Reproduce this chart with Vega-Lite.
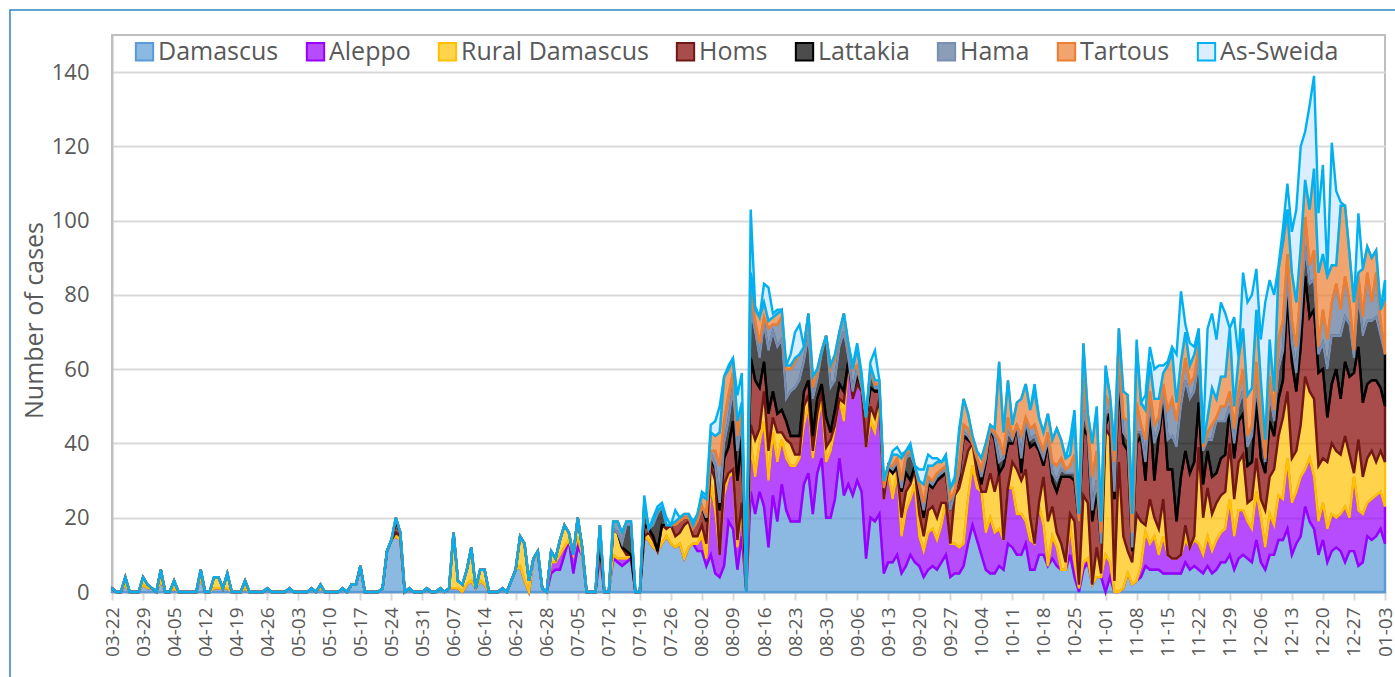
{"$schema":"https://vega.github.io/schema/vega-lite/v6.json","width":1273,"height":557,"autosize":"none","padding":{"left":112,"top":35,"right":10,"bottom":85},"background":"white","config":{"view":{"stroke":"#bfbfbf","strokeWidth":2},"font":"Open Sans","axisX":{"labelOverlap":false,"labelSeparation":0}},
"layer":[{"data":{"values":[
{"d":"2020-03-22","dam":1,"ale":0,"rur":0,"hom":0,"lat":0,"ham":0,"tar":0,"swe":0},
{"d":"2020-03-23","dam":0,"ale":0,"rur":0,"hom":0,"lat":0,"ham":0,"tar":0,"swe":0},
{"d":"2020-03-24","dam":0,"ale":0,"rur":0,"hom":0,"lat":0,"ham":0,"tar":0,"swe":0},
{"d":"2020-03-25","dam":2,"ale":0,"rur":2,"hom":0,"lat":0,"ham":0,"tar":0,"swe":0},
{"d":"2020-03-26","dam":0,"ale":0,"rur":0,"hom":0,"lat":0,"ham":0,"tar":0,"swe":0},
{"d":"2020-03-27","dam":0,"ale":0,"rur":0,"hom":0,"lat":0,"ham":0,"tar":0,"swe":0},
{"d":"2020-03-28","dam":0,"ale":0,"rur":0,"hom":0,"lat":0,"ham":0,"tar":0,"swe":0},
{"d":"2020-03-29","dam":2,"ale":0,"rur":2,"hom":0,"lat":0,"ham":0,"tar":0,"swe":0},
{"d":"2020-03-30","dam":1,"ale":0,"rur":1,"hom":0,"lat":0,"ham":0,"tar":0,"swe":0},
{"d":"2020-03-31","dam":1,"ale":0,"rur":0,"hom":0,"lat":0,"ham":0,"tar":0,"swe":0},
{"d":"2020-04-01","dam":0,"ale":0,"rur":0,"hom":0,"lat":0,"ham":0,"tar":0,"swe":0},
{"d":"2020-04-02","dam":3,"ale":0,"rur":3,"hom":0,"lat":0,"ham":0,"tar":0,"swe":0},
{"d":"2020-04-03","dam":0,"ale":0,"rur":0,"hom":0,"lat":0,"ham":0,"tar":0,"swe":0},
{"d":"2020-04-04","dam":0,"ale":0,"rur":0,"hom":0,"lat":0,"ham":0,"tar":0,"swe":0},
{"d":"2020-04-05","dam":1,"ale":0,"rur":2,"hom":0,"lat":0,"ham":0,"tar":0,"swe":0},
{"d":"2020-04-06","dam":0,"ale":0,"rur":0,"hom":0,"lat":0,"ham":0,"tar":0,"swe":0},
{"d":"2020-04-07","dam":0,"ale":0,"rur":0,"hom":0,"lat":0,"ham":0,"tar":0,"swe":0},
{"d":"2020-04-08","dam":0,"ale":0,"rur":0,"hom":0,"lat":0,"ham":0,"tar":0,"swe":0},
{"d":"2020-04-09","dam":0,"ale":0,"rur":0,"hom":0,"lat":0,"ham":0,"tar":0,"swe":0},
{"d":"2020-04-10","dam":0,"ale":0,"rur":0,"hom":0,"lat":0,"ham":0,"tar":0,"swe":0},
{"d":"2020-04-11","dam":4,"ale":0,"rur":2,"hom":0,"lat":0,"ham":0,"tar":0,"swe":0},
{"d":"2020-04-12","dam":0,"ale":0,"rur":0,"hom":0,"lat":0,"ham":0,"tar":0,"swe":0},
{"d":"2020-04-13","dam":0,"ale":0,"rur":0,"hom":0,"lat":0,"ham":0,"tar":0,"swe":0},
{"d":"2020-04-14","dam":1,"ale":0,"rur":3,"hom":0,"lat":0,"ham":0,"tar":0,"swe":0},
{"d":"2020-04-15","dam":1,"ale":0,"rur":3,"hom":0,"lat":0,"ham":0,"tar":0,"swe":0},
{"d":"2020-04-16","dam":1,"ale":0,"rur":0,"hom":0,"lat":0,"ham":0,"tar":0,"swe":0},
{"d":"2020-04-17","dam":1,"ale":0,"rur":4,"hom":0,"lat":0,"ham":0,"tar":0,"swe":0},
{"d":"2020-04-18","dam":0,"ale":0,"rur":0,"hom":0,"lat":0,"ham":0,"tar":0,"swe":0},
{"d":"2020-04-19","dam":0,"ale":0,"rur":0,"hom":0,"lat":0,"ham":0,"tar":0,"swe":0},
{"d":"2020-04-20","dam":0,"ale":0,"rur":0,"hom":0,"lat":0,"ham":0,"tar":0,"swe":0},
{"d":"2020-04-21","dam":1,"ale":0,"rur":2,"hom":0,"lat":0,"ham":0,"tar":0,"swe":0},
{"d":"2020-04-22","dam":0,"ale":0,"rur":0,"hom":0,"lat":0,"ham":0,"tar":0,"swe":0},
{"d":"2020-04-23","dam":0,"ale":0,"rur":0,"hom":0,"lat":0,"ham":0,"tar":0,"swe":0},
{"d":"2020-04-24","dam":0,"ale":0,"rur":0,"hom":0,"lat":0,"ham":0,"tar":0,"swe":0},
{"d":"2020-04-25","dam":0,"ale":0,"rur":0,"hom":0,"lat":0,"ham":0,"tar":0,"swe":0},
{"d":"2020-04-26","dam":1,"ale":0,"rur":0,"hom":0,"lat":0,"ham":0,"tar":0,"swe":0},
{"d":"2020-04-27","dam":0,"ale":0,"rur":0,"hom":0,"lat":0,"ham":0,"tar":0,"swe":0},
{"d":"2020-04-28","dam":0,"ale":0,"rur":0,"hom":0,"lat":0,"ham":0,"tar":0,"swe":0},
{"d":"2020-04-29","dam":0,"ale":0,"rur":0,"hom":0,"lat":0,"ham":0,"tar":0,"swe":0},
{"d":"2020-04-30","dam":0,"ale":0,"rur":0,"hom":0,"lat":0,"ham":0,"tar":0,"swe":0},
{"d":"2020-05-01","dam":1,"ale":0,"rur":0,"hom":0,"lat":0,"ham":0,"tar":0,"swe":0},
{"d":"2020-05-02","dam":0,"ale":0,"rur":0,"hom":0,"lat":0,"ham":0,"tar":0,"swe":0},
{"d":"2020-05-03","dam":0,"ale":0,"rur":0,"hom":0,"lat":0,"ham":0,"tar":0,"swe":0},
{"d":"2020-05-04","dam":0,"ale":0,"rur":0,"hom":0,"lat":0,"ham":0,"tar":0,"swe":0},
{"d":"2020-05-05","dam":0,"ale":0,"rur":0,"hom":0,"lat":0,"ham":0,"tar":0,"swe":0},
{"d":"2020-05-06","dam":1,"ale":0,"rur":0,"hom":0,"lat":0,"ham":0,"tar":0,"swe":0},
{"d":"2020-05-07","dam":0,"ale":0,"rur":0,"hom":0,"lat":0,"ham":0,"tar":0,"swe":0},
{"d":"2020-05-08","dam":1,"ale":0,"rur":1,"hom":0,"lat":0,"ham":0,"tar":0,"swe":0},
{"d":"2020-05-09","dam":0,"ale":0,"rur":0,"hom":0,"lat":0,"ham":0,"tar":0,"swe":0},
{"d":"2020-05-10","dam":0,"ale":0,"rur":0,"hom":0,"lat":0,"ham":0,"tar":0,"swe":0},
{"d":"2020-05-11","dam":0,"ale":0,"rur":0,"hom":0,"lat":0,"ham":0,"tar":0,"swe":0},
{"d":"2020-05-12","dam":0,"ale":0,"rur":0,"hom":0,"lat":0,"ham":0,"tar":0,"swe":0},
{"d":"2020-05-13","dam":1,"ale":0,"rur":0,"hom":0,"lat":0,"ham":0,"tar":0,"swe":0},
{"d":"2020-05-14","dam":0,"ale":0,"rur":0,"hom":0,"lat":0,"ham":0,"tar":0,"swe":0},
{"d":"2020-05-15","dam":2,"ale":0,"rur":0,"hom":0,"lat":0,"ham":0,"tar":0,"swe":0},
{"d":"2020-05-16","dam":2,"ale":0,"rur":0,"hom":0,"lat":0,"ham":0,"tar":0,"swe":0},
{"d":"2020-05-17","dam":7,"ale":0,"rur":0,"hom":0,"lat":0,"ham":0,"tar":0,"swe":0},
{"d":"2020-05-18","dam":0,"ale":0,"rur":0,"hom":0,"lat":0,"ham":0,"tar":0,"swe":0},
{"d":"2020-05-19","dam":0,"ale":0,"rur":0,"hom":0,"lat":0,"ham":0,"tar":0,"swe":0},
{"d":"2020-05-20","dam":0,"ale":0,"rur":0,"hom":0,"lat":0,"ham":0,"tar":0,"swe":0},
{"d":"2020-05-21","dam":0,"ale":0,"rur":0,"hom":0,"lat":0,"ham":0,"tar":0,"swe":0},
{"d":"2020-05-22","dam":1,"ale":0,"rur":0,"hom":0,"lat":0,"ham":0,"tar":0,"swe":0},
{"d":"2020-05-23","dam":11,"ale":0,"rur":0,"hom":0,"lat":0,"ham":0,"tar":0,"swe":0},
{"d":"2020-05-24","dam":14,"ale":0,"rur":0,"hom":0,"lat":0,"ham":0,"tar":0,"swe":0},
{"d":"2020-05-25","dam":15,"ale":0,"rur":1,"hom":3,"lat":1,"ham":0,"tar":0,"swe":0},
{"d":"2020-05-26","dam":14,"ale":0,"rur":1,"hom":1,"lat":0,"ham":0,"tar":0,"swe":0},
{"d":"2020-05-27","dam":0,"ale":0,"rur":0,"hom":0,"lat":0,"ham":0,"tar":0,"swe":0},
{"d":"2020-05-28","dam":1,"ale":0,"rur":0,"hom":0,"lat":0,"ham":0,"tar":0,"swe":0},
{"d":"2020-05-29","dam":0,"ale":0,"rur":0,"hom":0,"lat":0,"ham":0,"tar":0,"swe":0},
{"d":"2020-05-30","dam":0,"ale":0,"rur":0,"hom":0,"lat":0,"ham":0,"tar":0,"swe":0},
{"d":"2020-05-31","dam":0,"ale":0,"rur":0,"hom":0,"lat":0,"ham":0,"tar":0,"swe":0},
{"d":"2020-06-01","dam":1,"ale":0,"rur":0,"hom":0,"lat":0,"ham":0,"tar":0,"swe":0},
{"d":"2020-06-02","dam":0,"ale":0,"rur":0,"hom":0,"lat":0,"ham":0,"tar":0,"swe":0},
{"d":"2020-06-03","dam":0,"ale":0,"rur":0,"hom":0,"lat":0,"ham":0,"tar":0,"swe":0},
{"d":"2020-06-04","dam":1,"ale":0,"rur":0,"hom":0,"lat":0,"ham":0,"tar":0,"swe":0},
{"d":"2020-06-05","dam":0,"ale":0,"rur":0,"hom":0,"lat":0,"ham":0,"tar":0,"swe":0},
{"d":"2020-06-06","dam":1,"ale":0,"rur":0,"hom":0,"lat":0,"ham":0,"tar":0,"swe":0},
{"d":"2020-06-07","dam":1,"ale":0,"rur":15,"hom":0,"lat":0,"ham":0,"tar":0,"swe":0},
{"d":"2020-06-08","dam":1,"ale":0,"rur":2,"hom":0,"lat":0,"ham":0,"tar":0,"swe":0},
{"d":"2020-06-09","dam":0,"ale":0,"rur":2,"hom":0,"lat":0,"ham":0,"tar":0,"swe":0},
{"d":"2020-06-10","dam":2,"ale":0,"rur":4,"hom":0,"lat":0,"ham":0,"tar":0,"swe":0},
{"d":"2020-06-11","dam":3,"ale":0,"rur":9,"hom":0,"lat":0,"ham":0,"tar":0,"swe":0},
{"d":"2020-06-12","dam":1,"ale":0,"rur":0,"hom":0,"lat":0,"ham":0,"tar":0,"swe":0},
{"d":"2020-06-13","dam":3,"ale":0,"rur":3,"hom":0,"lat":0,"ham":0,"tar":0,"swe":0},
{"d":"2020-06-14","dam":2,"ale":0,"rur":4,"hom":0,"lat":0,"ham":0,"tar":0,"swe":0},
{"d":"2020-06-15","dam":0,"ale":0,"rur":0,"hom":0,"lat":0,"ham":0,"tar":0,"swe":0},
{"d":"2020-06-16","dam":0,"ale":0,"rur":0,"hom":0,"lat":0,"ham":0,"tar":0,"swe":0},
{"d":"2020-06-17","dam":0,"ale":0,"rur":0,"hom":0,"lat":0,"ham":0,"tar":0,"swe":0},
{"d":"2020-06-18","dam":1,"ale":0,"rur":0,"hom":0,"lat":0,"ham":0,"tar":0,"swe":0},
{"d":"2020-06-19","dam":0,"ale":0,"rur":0,"hom":0,"lat":0,"ham":0,"tar":0,"swe":0},
{"d":"2020-06-20","dam":3,"ale":0,"rur":0,"hom":0,"lat":0,"ham":0,"tar":0,"swe":0},
{"d":"2020-06-21","dam":6,"ale":0,"rur":0,"hom":0,"lat":0,"ham":0,"tar":0,"swe":0},
{"d":"2020-06-22","dam":7,"ale":0,"rur":8,"hom":0,"lat":0,"ham":0,"tar":0,"swe":0},
{"d":"2020-06-23","dam":3,"ale":0,"rur":10,"hom":0,"lat":0,"ham":0,"tar":0,"swe":0},
{"d":"2020-06-24","dam":0,"ale":0,"rur":3,"hom":0,"lat":0,"ham":0,"tar":0,"swe":0},
{"d":"2020-06-25","dam":9,"ale":0,"rur":0,"hom":0,"lat":0,"ham":0,"tar":0,"swe":0},
{"d":"2020-06-26","dam":10,"ale":0,"rur":1,"hom":0,"lat":0,"ham":0,"tar":0,"swe":0},
{"d":"2020-06-27","dam":1,"ale":0,"rur":0,"hom":0,"lat":0,"ham":0,"tar":0,"swe":0},
{"d":"2020-06-28","dam":0,"ale":0,"rur":0,"hom":0,"lat":0,"ham":0,"tar":0,"swe":0},
{"d":"2020-06-29","dam":5,"ale":3,"rur":3,"hom":0,"lat":0,"ham":0,"tar":0,"swe":0},
{"d":"2020-06-30","dam":6,"ale":2,"rur":1,"hom":0,"lat":0,"ham":0,"tar":0,"swe":0},
{"d":"2020-07-01","dam":6,"ale":4,"rur":4,"hom":0,"lat":0,"ham":0,"tar":0,"swe":0},
{"d":"2020-07-02","dam":10,"ale":2,"rur":6,"hom":0,"lat":0,"ham":0,"tar":0,"swe":0},
{"d":"2020-07-03","dam":14,"ale":0,"rur":2,"hom":0,"lat":0,"ham":0,"tar":0,"swe":0},
{"d":"2020-07-04","dam":5,"ale":5,"rur":0,"hom":0,"lat":0,"ham":0,"tar":0,"swe":0},
{"d":"2020-07-05","dam":12,"ale":3,"rur":5,"hom":0,"lat":0,"ham":0,"tar":0,"swe":0},
{"d":"2020-07-06","dam":10,"ale":0,"rur":2,"hom":0,"lat":0,"ham":0,"tar":0,"swe":0},
{"d":"2020-07-07","dam":0,"ale":0,"rur":0,"hom":0,"lat":0,"ham":0,"tar":0,"swe":0},
{"d":"2020-07-08","dam":0,"ale":0,"rur":0,"hom":0,"lat":0,"ham":0,"tar":0,"swe":0},
{"d":"2020-07-09","dam":0,"ale":0,"rur":0,"hom":0,"lat":0,"ham":0,"tar":0,"swe":0},
{"d":"2020-07-10","dam":10,"ale":2,"rur":0,"hom":3,"lat":3,"ham":0,"tar":0,"swe":0},
{"d":"2020-07-11","dam":0,"ale":0,"rur":0,"hom":0,"lat":0,"ham":0,"tar":0,"swe":0},
{"d":"2020-07-12","dam":0,"ale":0,"rur":0,"hom":0,"lat":0,"ham":0,"tar":0,"swe":0},
{"d":"2020-07-13","dam":9,"ale":1,"rur":7,"hom":0,"lat":0,"ham":2,"tar":0,"swe":0},
{"d":"2020-07-14","dam":8,"ale":1,"rur":7,"hom":0,"lat":0,"ham":3,"tar":0,"swe":0},
{"d":"2020-07-15","dam":7,"ale":2,"rur":3,"hom":0,"lat":1,"ham":3,"tar":0,"swe":0},
{"d":"2020-07-16","dam":8,"ale":1,"rur":1,"hom":1,"lat":7,"ham":1,"tar":0,"swe":0},
{"d":"2020-07-17","dam":9,"ale":1,"rur":0,"hom":0,"lat":8,"ham":1,"tar":0,"swe":0},
{"d":"2020-07-18","dam":0,"ale":0,"rur":0,"hom":0,"lat":0,"ham":0,"tar":0,"swe":0},
{"d":"2020-07-19","dam":0,"ale":0,"rur":0,"hom":0,"lat":0,"ham":0,"tar":0,"swe":0},
{"d":"2020-07-20","dam":15,"ale":0,"rur":0,"hom":3,"lat":5,"ham":1,"tar":0,"swe":2},
{"d":"2020-07-21","dam":14,"ale":0,"rur":2,"hom":1,"lat":0,"ham":0,"tar":0,"swe":0},
{"d":"2020-07-22","dam":12,"ale":0,"rur":2,"hom":1,"lat":3,"ham":1,"tar":0,"swe":1},
{"d":"2020-07-23","dam":11,"ale":0,"rur":0,"hom":0,"lat":10,"ham":1,"tar":0,"swe":1},
{"d":"2020-07-24","dam":13,"ale":0,"rur":5,"hom":0,"lat":5,"ham":0,"tar":0,"swe":1},
{"d":"2020-07-25","dam":15,"ale":0,"rur":2,"hom":1,"lat":0,"ham":0,"tar":0,"swe":2},
{"d":"2020-07-26","dam":13,"ale":0,"rur":5,"hom":0,"lat":0,"ham":0,"tar":0,"swe":0},
{"d":"2020-07-27","dam":12,"ale":0,"rur":3,"hom":3,"lat":0,"ham":0,"tar":1,"swe":3},
{"d":"2020-07-28","dam":13,"ale":0,"rur":3,"hom":3,"lat":0,"ham":0,"tar":1,"swe":0},
{"d":"2020-07-29","dam":9,"ale":0,"rur":9,"hom":2,"lat":0,"ham":0,"tar":1,"swe":0},
{"d":"2020-07-30","dam":12,"ale":0,"rur":7,"hom":1,"lat":0,"ham":0,"tar":1,"swe":0},
{"d":"2020-07-31","dam":13,"ale":0,"rur":2,"hom":2,"lat":0,"ham":0,"tar":1,"swe":1},
{"d":"2020-08-01","dam":11,"ale":2,"rur":2,"hom":4,"lat":0,"ham":0,"tar":2,"swe":0},
{"d":"2020-08-02","dam":11,"ale":4,"rur":3,"hom":5,"lat":0,"ham":0,"tar":3,"swe":1},
{"d":"2020-08-03","dam":7,"ale":2,"rur":4,"hom":6,"lat":1,"ham":1,"tar":4,"swe":1},
{"d":"2020-08-04","dam":10,"ale":19,"rur":5,"hom":2,"lat":1,"ham":1,"tar":5,"swe":2},
{"d":"2020-08-05","dam":5,"ale":17,"rur":8,"hom":3,"lat":1,"ham":4,"tar":4,"swe":4},
{"d":"2020-08-06","dam":4,"ale":6,"rur":0,"hom":12,"lat":2,"ham":10,"tar":9,"swe":7},
{"d":"2020-08-07","dam":7,"ale":19,"rur":3,"hom":7,"lat":4,"ham":6,"tar":12,"swe":0},
{"d":"2020-08-08","dam":19,"ale":12,"rur":1,"hom":7,"lat":7,"ham":7,"tar":7,"swe":1},
{"d":"2020-08-09","dam":17,"ale":15,"rur":1,"hom":13,"lat":9,"ham":4,"tar":4,"swe":0},
{"d":"2020-08-10","dam":6,"ale":6,"rur":2,"hom":16,"lat":8,"ham":4,"tar":4,"swe":7},
{"d":"2020-08-11","dam":15,"ale":7,"rur":2,"hom":17,"lat":5,"ham":3,"tar":2,"swe":8},
{"d":"2020-08-12","dam":0,"ale":0,"rur":0,"hom":0,"lat":0,"ham":0,"tar":0,"swe":0},
{"d":"2020-08-13","dam":27,"ale":13,"rur":5,"hom":18,"lat":13,"ham":4,"tar":6,"swe":17},
{"d":"2020-08-14","dam":21,"ale":10,"rur":10,"hom":16,"lat":13,"ham":3,"tar":3,"swe":1},
{"d":"2020-08-15","dam":27,"ale":13,"rur":4,"hom":11,"lat":8,"ham":4,"tar":7,"swe":0},
{"d":"2020-08-16","dam":23,"ale":23,"rur":8,"hom":8,"lat":10,"ham":2,"tar":4,"swe":5},
{"d":"2020-08-17","dam":12,"ale":18,"rur":8,"hom":10,"lat":17,"ham":6,"tar":2,"swe":9},
{"d":"2020-08-18","dam":26,"ale":17,"rur":4,"hom":7,"lat":16,"ham":2,"tar":2,"swe":1},
{"d":"2020-08-19","dam":19,"ale":16,"rur":8,"hom":5,"lat":18,"ham":6,"tar":3,"swe":1},
{"d":"2020-08-20","dam":29,"ale":12,"rur":2,"hom":6,"lat":19,"ham":6,"tar":2,"swe":0},
{"d":"2020-08-21","dam":22,"ale":14,"rur":5,"hom":5,"lat":6,"ham":8,"tar":1,"swe":0},
{"d":"2020-08-22","dam":19,"ale":15,"rur":6,"hom":2,"lat":12,"ham":6,"tar":1,"swe":3},
{"d":"2020-08-23","dam":19,"ale":15,"rur":3,"hom":5,"lat":13,"ham":7,"tar":1,"swe":7},
{"d":"2020-08-24","dam":19,"ale":17,"rur":1,"hom":5,"lat":15,"ham":7,"tar":0,"swe":8},
{"d":"2020-08-25","dam":29,"ale":16,"rur":5,"hom":4,"lat":8,"ham":4,"tar":0,"swe":0},
{"d":"2020-08-26","dam":32,"ale":18,"rur":3,"hom":4,"lat":12,"ham":6,"tar":0,"swe":0},
{"d":"2020-08-27","dam":21,"ale":15,"rur":2,"hom":4,"lat":10,"ham":3,"tar":3,"swe":0},
{"d":"2020-08-28","dam":32,"ale":13,"rur":3,"hom":4,"lat":5,"ham":2,"tar":1,"swe":0},
{"d":"2020-08-29","dam":36,"ale":16,"rur":2,"hom":2,"lat":8,"ham":1,"tar":0,"swe":0},
{"d":"2020-08-30","dam":20,"ale":15,"rur":4,"hom":8,"lat":22,"ham":0,"tar":0,"swe":0},
{"d":"2020-08-31","dam":20,"ale":18,"rur":3,"hom":2,"lat":12,"ham":5,"tar":1,"swe":0},
{"d":"2020-09-01","dam":25,"ale":19,"rur":1,"hom":4,"lat":8,"ham":6,"tar":1,"swe":0},
{"d":"2020-09-02","dam":36,"ale":16,"rur":0,"hom":4,"lat":10,"ham":4,"tar":0,"swe":0},
{"d":"2020-09-03","dam":26,"ale":20,"rur":5,"hom":3,"lat":16,"ham":5,"tar":0,"swe":0},
{"d":"2020-09-04","dam":29,"ale":33,"rur":0,"hom":0,"lat":1,"ham":3,"tar":1,"swe":0},
{"d":"2020-09-05","dam":26,"ale":26,"rur":0,"hom":2,"lat":0,"ham":6,"tar":0,"swe":1},
{"d":"2020-09-06","dam":30,"ale":26,"rur":0,"hom":2,"lat":2,"ham":1,"tar":5,"swe":1},
{"d":"2020-09-07","dam":27,"ale":27,"rur":0,"hom":1,"lat":0,"ham":1,"tar":1,"swe":2},
{"d":"2020-09-08","dam":9,"ale":30,"rur":0,"hom":8,"lat":0,"ham":0,"tar":0,"swe":0},
{"d":"2020-09-09","dam":20,"ale":26,"rur":4,"hom":5,"lat":4,"ham":1,"tar":1,"swe":1},
{"d":"2020-09-10","dam":19,"ale":24,"rur":4,"hom":7,"lat":1,"ham":1,"tar":1,"swe":8},
{"d":"2020-09-11","dam":21,"ale":30,"rur":1,"hom":2,"lat":1,"ham":1,"tar":1,"swe":0},
{"d":"2020-09-12","dam":5,"ale":20,"rur":0,"hom":3,"lat":0,"ham":0,"tar":2,"swe":0},
{"d":"2020-09-13","dam":8,"ale":24,"rur":1,"hom":1,"lat":0,"ham":0,"tar":0,"swe":0},
{"d":"2020-09-14","dam":8,"ale":17,"rur":7,"hom":0,"lat":1,"ham":1,"tar":3,"swe":1},
{"d":"2020-09-15","dam":10,"ale":22,"rur":1,"hom":1,"lat":1,"ham":1,"tar":1,"swe":2},
{"d":"2020-09-16","dam":5,"ale":10,"rur":5,"hom":7,"lat":1,"ham":2,"tar":6,"swe":1},
{"d":"2020-09-17","dam":7,"ale":15,"rur":5,"hom":5,"lat":4,"ham":1,"tar":1,"swe":0},
{"d":"2020-09-18","dam":10,"ale":15,"rur":4,"hom":1,"lat":7,"ham":1,"tar":1,"swe":1},
{"d":"2020-09-19","dam":8,"ale":21,"rur":4,"hom":1,"lat":0,"ham":0,"tar":0,"swe":0},
{"d":"2020-09-20","dam":7,"ale":8,"rur":6,"hom":6,"lat":1,"ham":1,"tar":1,"swe":3},
{"d":"2020-09-21","dam":4,"ale":7,"rur":4,"hom":5,"lat":2,"ham":2,"tar":5,"swe":4},
{"d":"2020-09-22","dam":6,"ale":10,"rur":6,"hom":7,"lat":1,"ham":1,"tar":3,"swe":3},
{"d":"2020-09-23","dam":7,"ale":10,"rur":6,"hom":5,"lat":1,"ham":1,"tar":4,"swe":2},
{"d":"2020-09-24","dam":6,"ale":8,"rur":6,"hom":10,"lat":1,"ham":1,"tar":3,"swe":1},
{"d":"2020-09-25","dam":8,"ale":10,"rur":6,"hom":7,"lat":1,"ham":1,"tar":2,"swe":0},
{"d":"2020-09-26","dam":10,"ale":14,"rur":0,"hom":8,"lat":1,"ham":1,"tar":2,"swe":1},
{"d":"2020-09-27","dam":4,"ale":9,"rur":0,"hom":9,"lat":0,"ham":3,"tar":3,"swe":0},
{"d":"2020-09-28","dam":5,"ale":8,"rur":13,"hom":1,"lat":0,"ham":0,"tar":3,"swe":1},
{"d":"2020-09-29","dam":5,"ale":7,"rur":16,"hom":3,"lat":1,"ham":2,"tar":9,"swe":1},
{"d":"2020-09-30","dam":7,"ale":6,"rur":20,"hom":9,"lat":1,"ham":2,"tar":7,"swe":0},
{"d":"2020-10-01","dam":13,"ale":12,"rur":13,"hom":3,"lat":1,"ham":2,"tar":4,"swe":0},
{"d":"2020-10-02","dam":18,"ale":16,"rur":6,"hom":0,"lat":0,"ham":0,"tar":2,"swe":0},
{"d":"2020-10-03","dam":14,"ale":14,"rur":4,"hom":4,"lat":0,"ham":0,"tar":2,"swe":0},
{"d":"2020-10-04","dam":10,"ale":17,"rur":0,"hom":2,"lat":2,"ham":2,"tar":3,"swe":0},
{"d":"2020-10-05","dam":6,"ale":10,"rur":11,"hom":8,"lat":1,"ham":2,"tar":2,"swe":0},
{"d":"2020-10-06","dam":5,"ale":15,"rur":12,"hom":12,"lat":0,"ham":0,"tar":1,"swe":0},
{"d":"2020-10-07","dam":5,"ale":11,"rur":11,"hom":14,"lat":1,"ham":1,"tar":1,"swe":0},
{"d":"2020-10-08","dam":7,"ale":10,"rur":15,"hom":0,"lat":3,"ham":6,"tar":21,"swe":0},
{"d":"2020-10-09","dam":6,"ale":8,"rur":0,"hom":20,"lat":2,"ham":1,"tar":6,"swe":0},
{"d":"2020-10-10","dam":13,"ale":15,"rur":0,"hom":12,"lat":3,"ham":4,"tar":10,"swe":0},
{"d":"2020-10-11","dam":12,"ale":16,"rur":7,"hom":5,"lat":1,"ham":1,"tar":3,"swe":0},
{"d":"2020-10-12","dam":10,"ale":11,"rur":12,"hom":12,"lat":0,"ham":0,"tar":6,"swe":0},
{"d":"2020-10-13","dam":10,"ale":11,"rur":9,"hom":2,"lat":4,"ham":6,"tar":10,"swe":0},
{"d":"2020-10-14","dam":13,"ale":6,"rur":14,"hom":12,"lat":1,"ham":1,"tar":9,"swe":0},
{"d":"2020-10-15","dam":6,"ale":8,"rur":6,"hom":19,"lat":2,"ham":3,"tar":5,"swe":0},
{"d":"2020-10-16","dam":6,"ale":7,"rur":0,"hom":27,"lat":2,"ham":3,"tar":9,"swe":2},
{"d":"2020-10-17","dam":10,"ale":13,"rur":1,"hom":14,"lat":1,"ham":2,"tar":6,"swe":0},
{"d":"2020-10-18","dam":10,"ale":8,"rur":13,"hom":3,"lat":2,"ham":2,"tar":5,"swe":0},
{"d":"2020-10-19","dam":7,"ale":0,"rur":12,"hom":21,"lat":1,"ham":2,"tar":5,"swe":0},
{"d":"2020-10-20","dam":9,"ale":6,"rur":8,"hom":7,"lat":2,"ham":3,"tar":6,"swe":0},
{"d":"2020-10-21","dam":7,"ale":5,"rur":4,"hom":11,"lat":3,"ham":4,"tar":10,"swe":0},
{"d":"2020-10-22","dam":6,"ale":0,"rur":7,"hom":18,"lat":2,"ham":3,"tar":5,"swe":0},
{"d":"2020-10-23","dam":6,"ale":0,"rur":2,"hom":23,"lat":1,"ham":1,"tar":3,"swe":0},
{"d":"2020-10-24","dam":10,"ale":8,"rur":3,"hom":10,"lat":1,"ham":2,"tar":3,"swe":4},
{"d":"2020-10-25","dam":4,"ale":4,"rur":11,"hom":11,"lat":2,"ham":5,"tar":9,"swe":3},
{"d":"2020-10-26","dam":0,"ale":1,"rur":1,"hom":17,"lat":0,"ham":0,"tar":2,"swe":2},
{"d":"2020-10-27","dam":6,"ale":2,"rur":18,"hom":18,"lat":5,"ham":8,"tar":10,"swe":0},
{"d":"2020-10-28","dam":8,"ale":1,"rur":15,"hom":18,"lat":1,"ham":2,"tar":3,"swe":0},
{"d":"2020-10-29","dam":2,"ale":0,"rur":0,"hom":17,"lat":3,"ham":9,"tar":9,"swe":0},
{"d":"2020-10-30","dam":4,"ale":0,"rur":8,"hom":15,"lat":3,"ham":8,"tar":11,"swe":1},
{"d":"2020-10-31","dam":4,"ale":0,"rur":1,"hom":8,"lat":0,"ham":3,"tar":3,"swe":1},
{"d":"2020-11-01","dam":0,"ale":10,"rur":34,"hom":1,"lat":3,"ham":5,"tar":7,"swe":1},
{"d":"2020-11-02","dam":4,"ale":4,"rur":34,"hom":6,"lat":1,"ham":1,"tar":3,"swe":0},
{"d":"2020-11-03","dam":0,"ale":0,"rur":3,"hom":22,"lat":2,"ham":8,"tar":3,"swe":1},
{"d":"2020-11-04","dam":0,"ale":0,"rur":35,"hom":22,"lat":3,"ham":5,"tar":6,"swe":0},
{"d":"2020-11-05","dam":1,"ale":0,"rur":14,"hom":25,"lat":3,"ham":4,"tar":7,"swe":0},
{"d":"2020-11-06","dam":5,"ale":0,"rur":6,"hom":27,"lat":3,"ham":5,"tar":7,"swe":0},
{"d":"2020-11-07","dam":2,"ale":0,"rur":6,"hom":3,"lat":1,"ham":4,"tar":5,"swe":2},
{"d":"2020-11-08","dam":3,"ale":0,"rur":18,"hom":19,"lat":3,"ham":8,"tar":15,"swe":2},
{"d":"2020-11-09","dam":4,"ale":3,"rur":12,"hom":23,"lat":1,"ham":2,"tar":6,"swe":0},
{"d":"2020-11-10","dam":7,"ale":9,"rur":2,"hom":12,"lat":5,"ham":6,"tar":8,"swe":4},
{"d":"2020-11-11","dam":6,"ale":7,"rur":12,"hom":24,"lat":2,"ham":3,"tar":8,"swe":4},
{"d":"2020-11-12","dam":6,"ale":9,"rur":5,"hom":10,"lat":10,"ham":5,"tar":7,"swe":8},
{"d":"2020-11-13","dam":6,"ale":4,"rur":7,"hom":25,"lat":2,"ham":3,"tar":5,"swe":9},
{"d":"2020-11-14","dam":5,"ale":10,"rur":10,"hom":26,"lat":3,"ham":2,"tar":3,"swe":2},
{"d":"2020-11-15","dam":5,"ale":5,"rur":0,"hom":23,"lat":8,"ham":8,"tar":12,"swe":1},
{"d":"2020-11-16","dam":5,"ale":4,"rur":0,"hom":24,"lat":9,"ham":10,"tar":13,"swe":1},
{"d":"2020-11-17","dam":5,"ale":4,"rur":0,"hom":10,"lat":20,"ham":7,"tar":5,"swe":13},
{"d":"2020-11-18","dam":5,"ale":5,"rur":0,"hom":21,"lat":19,"ham":5,"tar":7,"swe":19},
{"d":"2020-11-19","dam":8,"ale":6,"rur":4,"hom":20,"lat":19,"ham":6,"tar":7,"swe":2},
{"d":"2020-11-20","dam":6,"ale":6,"rur":0,"hom":20,"lat":20,"ham":4,"tar":5,"swe":6},
{"d":"2020-11-21","dam":7,"ale":7,"rur":1,"hom":20,"lat":19,"ham":4,"tar":6,"swe":2},
{"d":"2020-11-22","dam":6,"ale":7,"rur":26,"hom":12,"lat":11,"ham":4,"tar":3,"swe":2},
{"d":"2020-11-23","dam":5,"ale":5,"rur":10,"hom":9,"lat":9,"ham":1,"tar":1,"swe":2},
{"d":"2020-11-24","dam":7,"ale":8,"rur":13,"hom":10,"lat":3,"ham":2,"tar":4,"swe":24},
{"d":"2020-11-25","dam":5,"ale":6,"rur":10,"hom":10,"lat":10,"ham":4,"tar":10,"swe":20},
{"d":"2020-11-26","dam":6,"ale":8,"rur":10,"hom":8,"lat":14,"ham":1,"tar":5,"swe":16},
{"d":"2020-11-27","dam":8,"ale":8,"rur":10,"hom":10,"lat":10,"ham":4,"tar":8,"swe":20},
{"d":"2020-11-28","dam":8,"ale":9,"rur":10,"hom":10,"lat":9,"ham":4,"tar":8,"swe":17},
{"d":"2020-11-29","dam":10,"ale":15,"rur":15,"hom":10,"lat":0,"ham":4,"tar":17,"swe":0},
{"d":"2020-11-30","dam":6,"ale":9,"rur":10,"hom":11,"lat":4,"ham":4,"tar":6,"swe":24},
{"d":"2020-12-01","dam":9,"ale":13,"rur":13,"hom":11,"lat":4,"ham":4,"tar":9,"swe":0},
{"d":"2020-12-02","dam":10,"ale":12,"rur":15,"hom":11,"lat":6,"ham":6,"tar":11,"swe":15},
{"d":"2020-12-03","dam":9,"ale":10,"rur":5,"hom":10,"lat":5,"ham":3,"tar":11,"swe":25},
{"d":"2020-12-04","dam":8,"ale":9,"rur":8,"hom":10,"lat":7,"ham":3,"tar":10,"swe":25},
{"d":"2020-12-05","dam":14,"ale":13,"rur":9,"hom":15,"lat":5,"ham":6,"tar":14,"swe":11},
{"d":"2020-12-06","dam":8,"ale":12,"rur":5,"hom":11,"lat":8,"ham":3,"tar":10,"swe":11},
{"d":"2020-12-07","dam":6,"ale":6,"rur":10,"hom":10,"lat":3,"ham":1,"tar":5,"swe":37},
{"d":"2020-12-08","dam":10,"ale":11,"rur":10,"hom":15,"lat":7,"ham":5,"tar":10,"swe":16},
{"d":"2020-12-09","dam":10,"ale":8,"rur":15,"hom":9,"lat":4,"ham":3,"tar":5,"swe":26},
{"d":"2020-12-10","dam":14,"ale":12,"rur":16,"hom":10,"lat":8,"ham":8,"tar":19,"swe":1},
{"d":"2020-12-11","dam":14,"ale":11,"rur":22,"hom":10,"lat":8,"ham":8,"tar":21,"swe":4},
{"d":"2020-12-12","dam":17,"ale":19,"rur":18,"hom":26,"lat":5,"ham":6,"tar":12,"swe":7},
{"d":"2020-12-13","dam":10,"ale":14,"rur":12,"hom":26,"lat":5,"ham":6,"tar":13,"swe":11},
{"d":"2020-12-14","dam":13,"ale":14,"rur":11,"hom":16,"lat":5,"ham":7,"tar":12,"swe":25},
{"d":"2020-12-15","dam":15,"ale":16,"rur":14,"hom":21,"lat":8,"ham":8,"tar":11,"swe":27},
{"d":"2020-12-16","dam":23,"ale":10,"rur":25,"hom":27,"lat":8,"ham":8,"tar":10,"swe":13},
{"d":"2020-12-17","dam":19,"ale":17,"rur":18,"hom":20,"lat":9,"ham":5,"tar":15,"swe":28},
{"d":"2020-12-18","dam":17,"ale":14,"rur":21,"hom":24,"lat":8,"ham":8,"tar":22,"swe":25},
{"d":"2020-12-19","dam":10,"ale":9,"rur":15,"hom":25,"lat":5,"ham":2,"tar":20,"swe":16},
{"d":"2020-12-20","dam":14,"ale":10,"rur":12,"hom":24,"lat":7,"ham":9,"tar":15,"swe":24},
{"d":"2020-12-21","dam":8,"ale":9,"rur":18,"hom":12,"lat":13,"ham":8,"tar":17,"swe":1},
{"d":"2020-12-22","dam":11,"ale":10,"rur":19,"hom":16,"lat":13,"ham":9,"tar":10,"swe":33},
{"d":"2020-12-23","dam":12,"ale":8,"rur":18,"hom":22,"lat":9,"ham":14,"tar":5,"swe":20},
{"d":"2020-12-24","dam":11,"ale":10,"rur":16,"hom":15,"lat":17,"ham":7,"tar":28,"swe":1},
{"d":"2020-12-25","dam":8,"ale":15,"rur":19,"hom":20,"lat":12,"ham":11,"tar":19,"swe":0},
{"d":"2020-12-26","dam":11,"ale":9,"rur":17,"hom":21,"lat":14,"ham":6,"tar":13,"swe":0},
{"d":"2020-12-27","dam":11,"ale":20,"rur":1,"hom":27,"lat":4,"ham":2,"tar":13,"swe":0},
{"d":"2020-12-28","dam":7,"ale":15,"rur":19,"hom":25,"lat":14,"ham":5,"tar":1,"swe":16},
{"d":"2020-12-29","dam":8,"ale":13,"rur":10,"hom":20,"lat":18,"ham":5,"tar":13,"swe":0},
{"d":"2020-12-30","dam":15,"ale":9,"rur":12,"hom":20,"lat":17,"ham":13,"tar":7,"swe":0},
{"d":"2020-12-31","dam":14,"ale":11,"rur":13,"hom":19,"lat":16,"ham":5,"tar":12,"swe":0},
{"d":"2021-01-01","dam":15,"ale":11,"rur":9,"hom":22,"lat":17,"ham":12,"tar":6,"swe":0},
{"d":"2021-01-02","dam":17,"ale":10,"rur":11,"hom":17,"lat":14,"ham":4,"tar":3,"swe":0},
{"d":"2021-01-03","dam":13,"ale":10,"rur":12,"hom":15,"lat":14,"ham":0,"tar":15,"swe":5}
],"format":{"parse":{"d":"utc:'%Y-%m-%d'"}}},
"transform":[{"fold":["dam","ale","rur","hom","lat","ham","tar","swe"],"as":["key","cases"]},
{"lookup":"key","from":{"data":{"values":[{"key":"dam","name":"Damascus","rank":0},{"key":"ale","name":"Aleppo","rank":1},{"key":"rur","name":"Rural Damascus","rank":2},{"key":"hom","name":"Homs","rank":3},{"key":"lat","name":"Lattakia","rank":4},{"key":"ham","name":"Hama","rank":5},{"key":"tar","name":"Tartous","rank":6},{"key":"swe","name":"As-Sweida","rank":7}]},"key":"key","fields":["name","rank"]}}],
"mark":{"type":"area","interpolate":"linear","fillOpacity":0.7,"strokeOpacity":1,"strokeWidth":2.4,"strokeJoin":"miter","tooltip":false},
"encoding":{
"x":{"field":"d","type":"temporal","scale":{"type":"utc","domain":[{"year":2020,"month":3,"date":22,"utc":true},{"year":2021,"month":1,"date":3,"utc":true}]},
"axis":{"title":null,"format":"%m-%d","tickCount":60,"labelAngle":-90,"labelFontSize":19,"labelColor":"#595959","labelPadding":7,"labelFlush":false,"labelOverlap":false,"labelSeparation":0,"tickColor":"#d9d9d9","tickWidth":2,"tickSize":8,"domainColor":"#bfbfbf","domainWidth":2,"grid":false,
"values":[{"year":2020,"month":3,"date":22,"utc":true},{"year":2020,"month":3,"date":29,"utc":true},{"year":2020,"month":4,"date":5,"utc":true},{"year":2020,"month":4,"date":12,"utc":true},{"year":2020,"month":4,"date":19,"utc":true},{"year":2020,"month":4,"date":26,"utc":true},{"year":2020,"month":5,"date":3,"utc":true},{"year":2020,"month":5,"date":10,"utc":true},{"year":2020,"month":5,"date":17,"utc":true},{"year":2020,"month":5,"date":24,"utc":true},{"year":2020,"month":5,"date":31,"utc":true},{"year":2020,"month":6,"date":7,"utc":true},{"year":2020,"month":6,"date":14,"utc":true},{"year":2020,"month":6,"date":21,"utc":true},{"year":2020,"month":6,"date":28,"utc":true},{"year":2020,"month":7,"date":5,"utc":true},{"year":2020,"month":7,"date":12,"utc":true},{"year":2020,"month":7,"date":19,"utc":true},{"year":2020,"month":7,"date":26,"utc":true},{"year":2020,"month":8,"date":2,"utc":true},{"year":2020,"month":8,"date":9,"utc":true},{"year":2020,"month":8,"date":16,"utc":true},{"year":2020,"month":8,"date":23,"utc":true},{"year":2020,"month":8,"date":30,"utc":true},{"year":2020,"month":9,"date":6,"utc":true},{"year":2020,"month":9,"date":13,"utc":true},{"year":2020,"month":9,"date":20,"utc":true},{"year":2020,"month":9,"date":27,"utc":true},{"year":2020,"month":10,"date":4,"utc":true},{"year":2020,"month":10,"date":11,"utc":true},{"year":2020,"month":10,"date":18,"utc":true},{"year":2020,"month":10,"date":25,"utc":true},{"year":2020,"month":11,"date":1,"utc":true},{"year":2020,"month":11,"date":8,"utc":true},{"year":2020,"month":11,"date":15,"utc":true},{"year":2020,"month":11,"date":22,"utc":true},{"year":2020,"month":11,"date":29,"utc":true},{"year":2020,"month":12,"date":6,"utc":true},{"year":2020,"month":12,"date":13,"utc":true},{"year":2020,"month":12,"date":20,"utc":true},{"year":2020,"month":12,"date":27,"utc":true},{"year":2021,"month":1,"date":3,"utc":true}]}},
"y":{"field":"cases","type":"quantitative","stack":"zero","scale":{"domain":[0,150],"nice":false},
"axis":{"title":"Number of cases","titleFontSize":25,"titleFontWeight":"normal","titleColor":"#595959","titlePadding":4,"titleY":285,"values":[0,20,40,60,80,100,120,140],"labelFontSize":22,"labelColor":"#595959","labelPadding":23,"ticks":false,"domainColor":"#bfbfbf","domainWidth":2,"grid":true,"gridColor":"#d9d9d9","gridWidth":2}},
"order":{"field":"rank","type":"ordinal"},
"fill":{"field":"name","type":"nominal","scale":{"domain":["Damascus","Aleppo","Rural Damascus","Homs","Lattakia","Hama","Tartous","As-Sweida"],"range":["#5b9bd5","#9900ff","#ffc000","#830000","#000000","#5a7399","#ed7d31","#cbe7ff"]},
"legend":{"title":null,"orient":"none","legendX":20,"legendY":4,"direction":"horizontal","columns":8,"columnPadding":23,"symbolType":"square","symbolSize":300,"symbolStrokeWidth":2,"labelFontSize":25,"labelOffset":1,"labelColor":"#595959","labelLimit":300,"encode":{"symbols":{"update":{"fillOpacity":{"value":0.7}}}}}},
"stroke":{"field":"name","type":"nominal","scale":{"domain":["Damascus","Aleppo","Rural Damascus","Homs","Lattakia","Hama","Tartous","As-Sweida"],"range":["#5b9bd5","#9900ff","#ffc000","#701818","#000000","#7a8fb0","#ed7d31","#00b0f0"]},
"legend":{"title":null,"orient":"none","legendX":20,"legendY":4,"direction":"horizontal","columns":8,"columnPadding":23,"symbolType":"square","symbolSize":300,"symbolStrokeWidth":2,"labelFontSize":25,"labelOffset":1,"labelColor":"#595959","labelLimit":300,"encode":{"symbols":{"update":{"fillOpacity":{"value":0.7}}}}}}
}},
{"data":{"values":[{"frame":1}]},"mark":{"type":"rect","fill":null,"stroke":"#2e86c1","strokeWidth":1.5,"tooltip":false},
"encoding":{"x":{"datum":{"year":2020,"month":2,"date":28,"utc":true},"type":"temporal"},"x2":{"datum":{"year":2021,"month":2,"date":10,"utc":true}},"y":{"datum":156.7,"type":"quantitative"},"y2":{"datum":-40}}}
]}
